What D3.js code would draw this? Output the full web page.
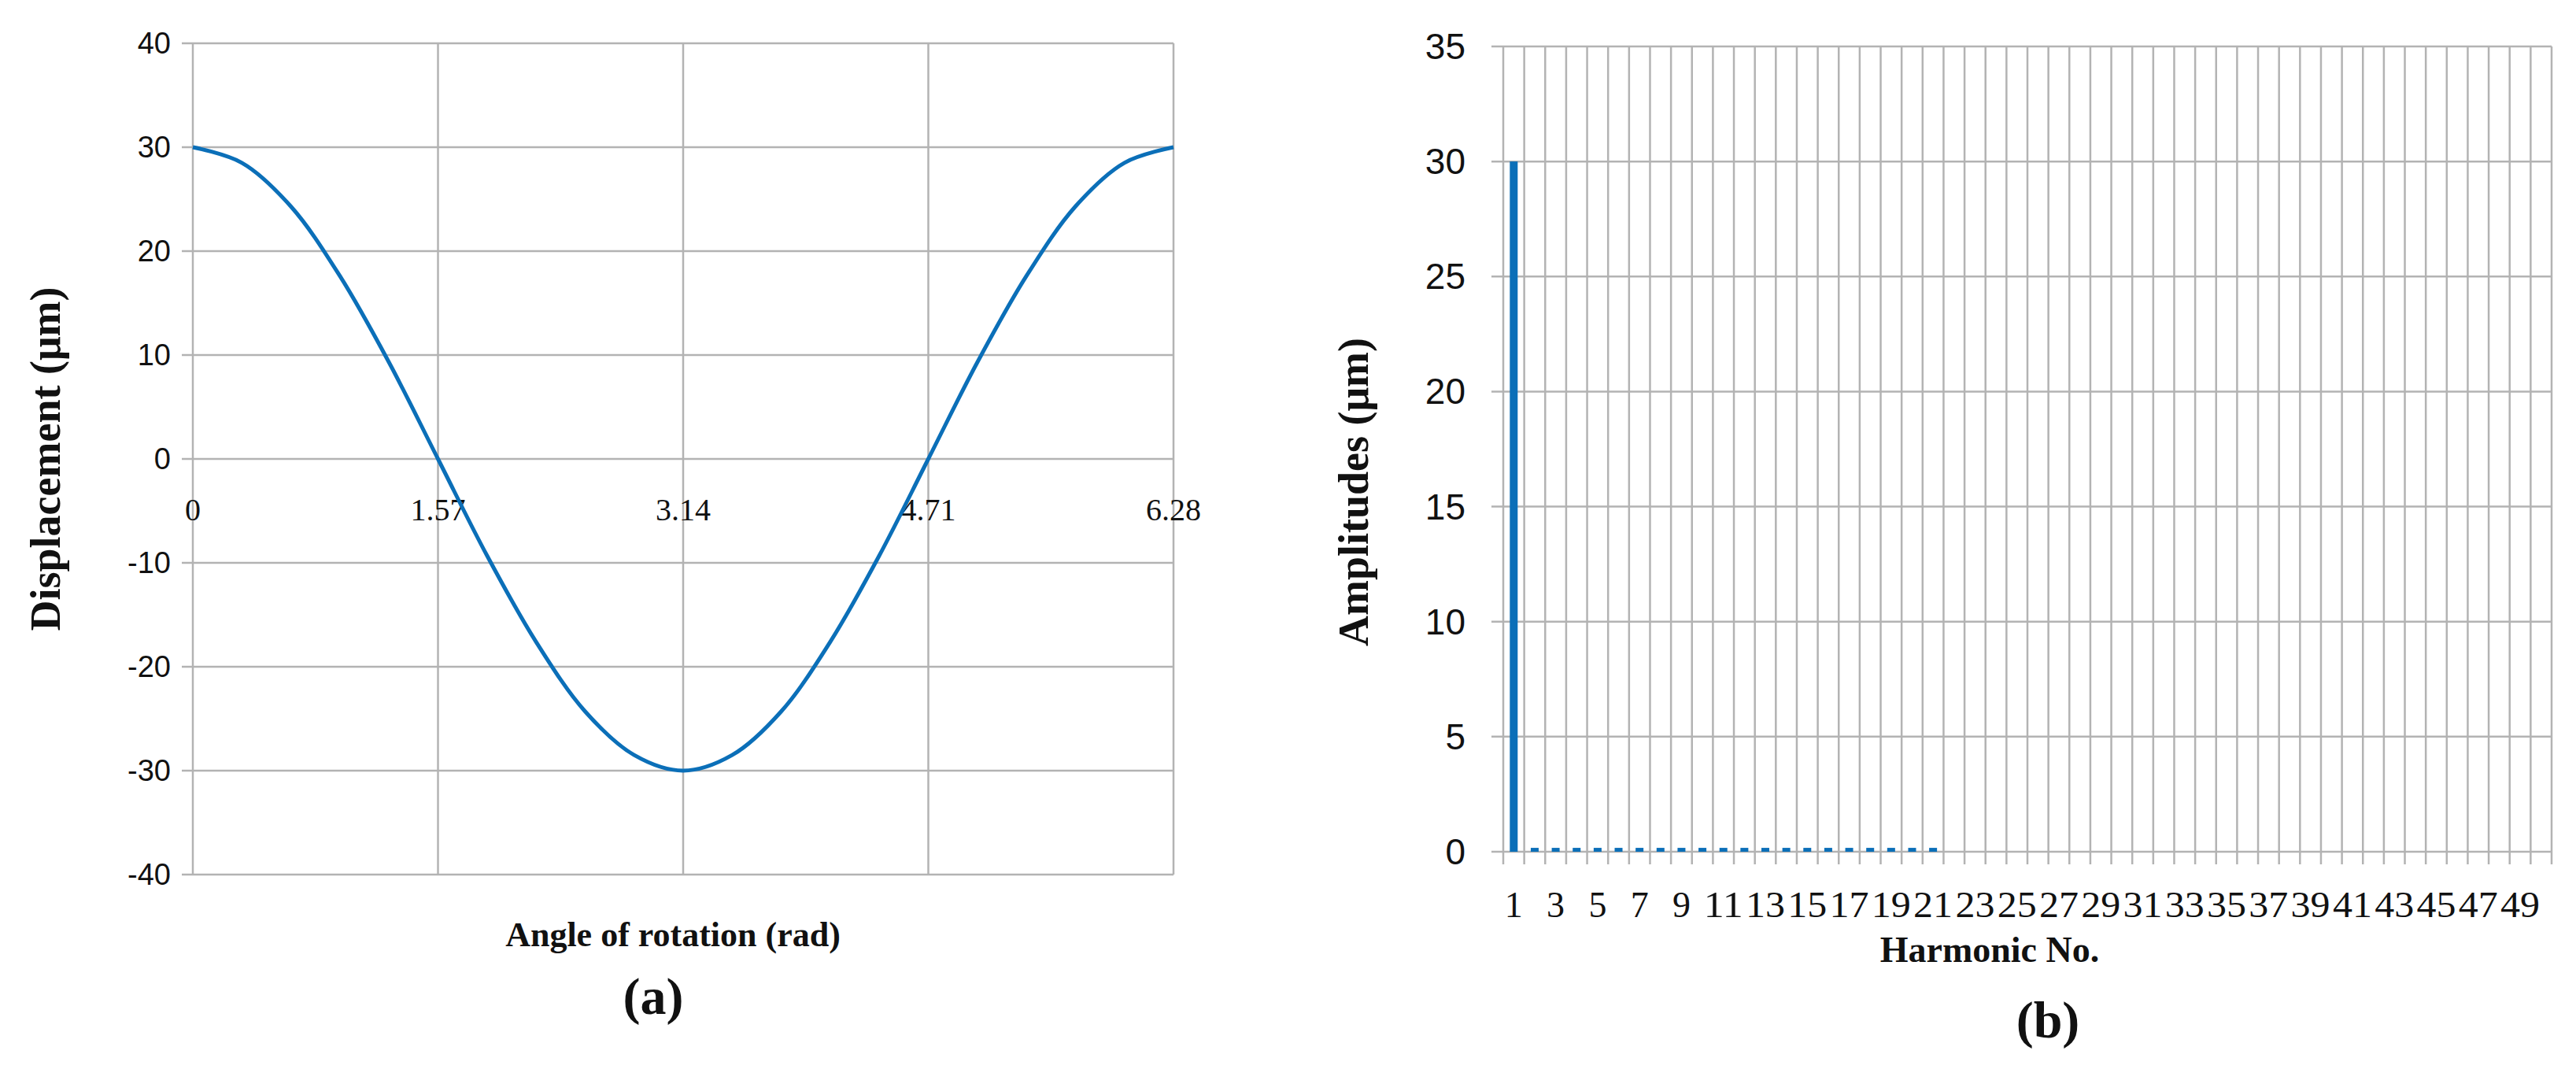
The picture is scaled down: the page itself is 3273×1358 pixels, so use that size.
<!DOCTYPE html>
<html>
<head>
<meta charset="utf-8">
<script src="https://cdn.jsdelivr.net/npm/d3@7"></script>
<style>
  body { margin: 0; background: #fff; }
  text { fill: #111; }
</style>
</head>
<body>
<svg id="chart" width="3273" height="1358"></svg>
<script>
// chart (a): displacement vs angle
const angles = [0, 0.314, 0.628, 0.942, 1.256, 1.57, 1.884, 2.198, 2.512, 2.826, 3.14,
  3.454, 3.768, 4.082, 4.396, 4.71, 5.024, 5.338, 5.652, 5.966, 6.28];
const displacement = [30, 28.5, 24.3, 17.6, 9.3, 0, -9.3, -17.6, -24.3, -28.5, -30,
  -28.5, -24.3, -17.6, -9.3, 0, 9.3, 17.6, 24.3, 28.5, 30];
const angleTicks = [0, 1.57, 3.14, 4.71, 6.28];
const dispTicks = [-40, -30, -20, -10, 0, 10, 20, 30, 40];

// chart (b): harmonic amplitudes
const harmonics = d3.range(1, 51);
const amplitudes = [30, 0.1, 0.1, 0.1, 0.1, 0.1, 0.1, 0.1, 0.1, 0.1, 0.1, 0.1, 0.1, 0.1, 0.1, 0.1,
  0.1, 0.1, 0.1, 0.1, 0.1, 0, 0, 0, 0, 0, 0, 0, 0, 0, 0, 0, 0, 0, 0, 0, 0, 0, 0, 0, 0, 0, 0, 0, 0, 0, 0, 0, 0, 0];
const ampTicks = [0, 5, 10, 15, 20, 25, 30, 35];

const svg = d3.select("#chart");
const gridCol = "#b3b3b3";
const blue = "#0b6fb8";
const narrow = "'Liberation Sans Narrow', 'Liberation Sans', sans-serif";
const serif = "'Liberation Serif', 'DejaVu Serif', serif";

// ---------- (a) ----------
const xa = d3.scaleLinear().domain([0, 6.28]).range([245, 1491]);
const ya = d3.scaleLinear().domain([-40, 40]).range([1111, 55]);
const ga = svg.append("g");

ga.selectAll(".hgrid").data(dispTicks).enter().append("line")
  .attr("x1", xa(0) - 14).attr("x2", xa(6.28))
  .attr("y1", d => ya(d)).attr("y2", d => ya(d))
  .attr("stroke", gridCol).attr("stroke-width", 2.5);
ga.selectAll(".vgrid").data(angleTicks).enter().append("line")
  .attr("x1", d => xa(d)).attr("x2", d => xa(d))
  .attr("y1", ya(40)).attr("y2", ya(-40))
  .attr("stroke", gridCol).attr("stroke-width", 2.5);

ga.selectAll(".ylab").data(dispTicks).enter().append("text")
  .attr("x", xa(0) - 28).attr("y", d => ya(d) + 13)
  .attr("text-anchor", "end").attr("font-family", narrow).attr("font-size", 38)
  .text(d => d);
ga.selectAll(".xlab").data(angleTicks).enter().append("text")
  .attr("x", d => xa(d)).attr("y", ya(0) + 78)
  .attr("text-anchor", "middle").attr("font-family", serif).attr("font-size", 40)
  .text(d => d);

ga.append("path").datum(angles.map((a, i) => [a, displacement[i]]))
  .attr("fill", "none").attr("stroke", blue).attr("stroke-width", 5)
  .attr("d", d3.line().x(d => xa(d[0])).y(d => ya(d[1])).curve(d3.curveCatmullRom.alpha(0.5)));

ga.append("text").attr("transform", "translate(76,583) rotate(-90)")
  .attr("text-anchor", "middle").attr("font-family", serif).attr("font-weight", "bold")
  .attr("font-size", 54).text("Displacement (μm)");
ga.append("text").attr("x", 855).attr("y", 1202)
  .attr("text-anchor", "middle").attr("font-family", serif).attr("font-weight", "bold")
  .attr("font-size", 44).text("Angle of rotation (rad)");
ga.append("text").attr("x", 830).attr("y", 1288)
  .attr("text-anchor", "middle").attr("font-family", serif).attr("font-weight", "bold")
  .attr("font-size", 66).text("(a)");

// ---------- (b) ----------
const xb = d3.scaleBand().domain(harmonics).range([1910, 3242]);
const yb = d3.scaleLinear().domain([0, 35]).range([1082, 59]);
const gb = svg.append("g");

gb.selectAll(".hgrid").data(ampTicks).enter().append("line")
  .attr("x1", xb.range()[0] - 15).attr("x2", xb.range()[1])
  .attr("y1", d => yb(d)).attr("y2", d => yb(d))
  .attr("stroke", gridCol).attr("stroke-width", 2.5);
gb.selectAll(".vgrid").data(harmonics.concat([51])).enter().append("line")
  .attr("x1", d => d === 51 ? xb.range()[1] : xb(d))
  .attr("x2", d => d === 51 ? xb.range()[1] : xb(d))
  .attr("y1", yb(35)).attr("y2", yb(0) + 16)
  .attr("stroke", gridCol).attr("stroke-width", 2.5);

gb.selectAll(".bar").data(harmonics).enter().append("rect")
  .attr("x", d => xb(d) + xb.bandwidth() / 2 - 5)
  .attr("width", 10)
  .attr("y", (d, i) => yb(amplitudes[i]) - (amplitudes[i] > 0 && amplitudes[i] < 1 ? 2 : 0))
  .attr("height", (d, i) => amplitudes[i] > 0 ? yb(0) - yb(amplitudes[i]) + (amplitudes[i] < 1 ? 2 : 0) : 0)
  .attr("fill", blue);

gb.selectAll(".ylab").data(ampTicks).enter().append("text")
  .attr("x", 1862).attr("y", d => yb(d) + 16)
  .attr("text-anchor", "end").attr("font-family", narrow).attr("font-size", 46)
  .text(d => d);
gb.selectAll(".xlab").data(harmonics.filter(d => d % 2 === 1)).enter().append("text")
  .attr("x", d => xb(d) + xb.bandwidth() / 2).attr("y", 1165)
  .attr("text-anchor", "middle").attr("font-family", serif).attr("font-size", 46)
  .attr("textLength", d => d < 10 ? null : 50).attr("lengthAdjust", "spacingAndGlyphs")
  .text(d => d);

gb.append("text").attr("transform", "translate(1738,625) rotate(-90)")
  .attr("text-anchor", "middle").attr("font-family", serif).attr("font-weight", "bold")
  .attr("font-size", 54).text("Amplitudes (μm)");
gb.append("text").attr("x", 2528).attr("y", 1222)
  .attr("text-anchor", "middle").attr("font-family", serif).attr("font-weight", "bold")
  .attr("font-size", 46).text("Harmonic No.");
gb.append("text").attr("x", 2602).attr("y", 1318)
  .attr("text-anchor", "middle").attr("font-family", serif).attr("font-weight", "bold")
  .attr("font-size", 66).text("(b)");
</script>
</body>
</html>
